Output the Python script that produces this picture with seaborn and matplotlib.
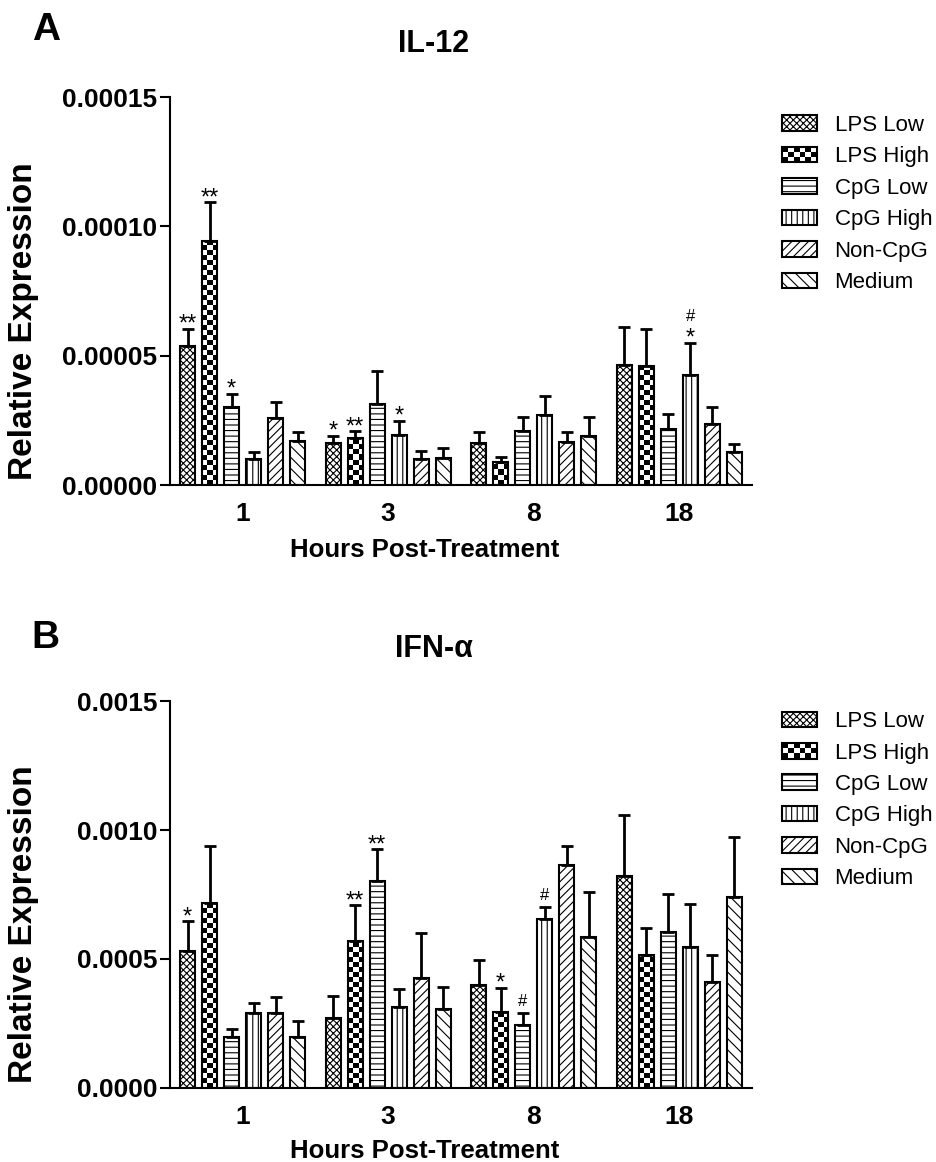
import numpy as np
import pandas as pd
import seaborn as sns
import matplotlib.pyplot as plt
from matplotlib.patches import Patch, Rectangle
from matplotlib.legend_handler import HandlerPatch

# categories
times = ['1', '3', '8', '18']
treatments = ['LPS Low', 'LPS High', 'CpG Low', 'CpG High', 'Non-CpG', 'Medium']
hatches = ['xxxxx', None, '---', '|||', '////', '\\\\\\']

# IL-12 (rows = treatments, cols = hours)
il12_mean = [[5.39e-5, 1.63e-5, 1.63e-5, 4.65e-5],
             [9.42e-5, 1.82e-5, 0.89e-5, 4.60e-5],
             [3.02e-5, 3.14e-5, 2.09e-5, 2.17e-5],
             [1.00e-5, 1.94e-5, 2.71e-5, 4.26e-5],
             [2.60e-5, 1.00e-5, 1.67e-5, 2.36e-5],
             [1.70e-5, 1.05e-5, 1.90e-5, 1.28e-5]]
il12_sem = [[0.66e-5, 0.27e-5, 0.42e-5, 1.47e-5],
            [1.51e-5, 0.27e-5, 0.19e-5, 1.45e-5],
            [0.51e-5, 1.28e-5, 0.55e-5, 0.58e-5],
            [0.28e-5, 0.54e-5, 0.74e-5, 1.24e-5],
            [0.60e-5, 0.30e-5, 0.38e-5, 0.66e-5],
            [0.35e-5, 0.38e-5, 0.74e-5, 0.31e-5]]
il12_sig = [['**', '*', '', ''],
            ['**', '**', '', ''],
            ['*', '', '', ''],
            ['', '*', '', '* #'],
            ['', '', '', ''],
            ['', '', '', '']]
il12_ticks = [0, 0.00005, 0.00010, 0.00015]
il12_ticklabels = ['0.00000', '0.00005', '0.00010', '0.00015']

# IFN-alpha
ifn_mean = [[5.31e-4, 2.71e-4, 3.99e-4, 8.22e-4],
            [7.17e-4, 5.70e-4, 2.95e-4, 5.16e-4],
            [1.98e-4, 8.02e-4, 2.44e-4, 6.05e-4],
            [2.90e-4, 3.14e-4, 6.55e-4, 5.47e-4],
            [2.90e-4, 4.26e-4, 8.64e-4, 4.11e-4],
            [1.98e-4, 3.06e-4, 5.85e-4, 7.40e-4]]
ifn_sem = [[1.16e-4, 0.86e-4, 0.97e-4, 2.36e-4],
           [2.21e-4, 1.39e-4, 0.93e-4, 1.04e-4],
           [0.31e-4, 1.24e-4, 0.46e-4, 1.47e-4],
           [0.40e-4, 0.70e-4, 0.47e-4, 1.66e-4],
           [0.63e-4, 1.74e-4, 0.74e-4, 1.05e-4],
           [0.62e-4, 0.84e-4, 1.75e-4, 2.33e-4]]
ifn_sig = [['*', '', '', ''],
           ['', '**', '*', ''],
           ['', '**', '#', ''],
           ['', '', '#', ''],
           ['', '', '', ''],
           ['', '', '', '']]
ifn_ticks = [0, 0.0005, 0.0010, 0.0015]
ifn_ticklabels = ['0.0000', '0.0005', '0.0010', '0.0015']

sns.set_style('ticks')
plt.rcParams['font.family'] = ['Liberation Sans', 'DejaVu Sans']
plt.rcParams['hatch.linewidth'] = 0.8
plt.rcParams['axes.linewidth'] = 1.5
for key in ['text.color', 'axes.labelcolor', 'xtick.color', 'ytick.color', 'axes.edgecolor']:
    plt.rcParams[key] = 'black'


def make_df(mean, sem, sig):
    rows = []
    for i, trt in enumerate(treatments):
        for j, hr in enumerate(times):
            rows.append({'hours': hr, 'treatment': trt, 'value': mean[i][j],
                         'sem': sem[i][j], 'sig': sig[i][j]})
    return pd.DataFrame(rows)


class CheckerHandler(HandlerPatch):
    # legend swatch drawn as a black/white checkerboard
    def create_artists(self, legend, orig_handle, xdescent, ydescent,
                       width, height, fontsize, trans):
        ncol, nrow = 6, 3
        cw, ch = width / ncol, height / nrow
        arts = []
        for r in range(nrow):
            for c in range(ncol):
                if (r + c) % 2 == 0:
                    arts.append(Rectangle((-xdescent + c * cw, -ydescent + r * ch), cw, ch,
                                          facecolor='black', edgecolor='none', transform=trans))
        arts.append(Rectangle((-xdescent, -ydescent), width, height, facecolor='none',
                              edgecolor='black', linewidth=1.5, transform=trans))
        return arts


def add_marks(ax, x, y, label):
    off = 0
    for tok in label.split():
        if tok.startswith('*'):
            ax.annotate(tok, (x, y), xytext=(0, off - 1.5), textcoords='offset points',
                        ha='center', va='baseline', fontsize=17)
            off += 11
        else:
            ax.annotate(tok, (x, y), xytext=(0, off + 5), textcoords='offset points',
                        ha='center', va='baseline', fontsize=12)
            off += 14


def draw_panel(ax, df, ticks, ticklabels):
    sns.barplot(data=df, x='hours', y='value', hue='treatment', order=times,
                hue_order=treatments, palette=['white'] * 6, saturation=1,
                edgecolor='black', linewidth=1.5, width=0.91, gap=0.32,
                errorbar=None, legend=False, ax=ax)
    ax.set_xlim(-0.5, 3.5)
    ax.set_ylim(0, ticks[-1])

    for i, trt in enumerate(treatments):
        bars = ax.containers[i]
        sub = df[df['treatment'] == trt].set_index('hours').loc[times]
        xs = [b.get_x() + b.get_width() / 2 for b in bars]
        if hatches[i]:
            for b in bars:
                b.set_hatch(hatches[i])
        else:
            # checkerboard fill for LPS High
            for b in bars:
                x0, w, h = b.get_x(), b.get_width(), b.get_height()
                px = ax.transData.transform([(x0, 0), (x0 + w, h)])
                cell = (px[1, 0] - px[0, 0]) / 3
                n = (px[1, 1] - px[0, 1]) / cell
                nrows = int(np.ceil(n))
                board = np.indices((nrows, 3)).sum(axis=0) % 2
                b.set_facecolor('none')
                img = ax.imshow(board, cmap='gray_r', vmin=0, vmax=1, origin='lower',
                                extent=(x0, x0 + w, 0, nrows * h / n),
                                interpolation='nearest', aspect='auto', zorder=0.5)
                img.set_clip_path(b)
        ax.errorbar(xs, sub['value'], yerr=[np.zeros(len(times)), sub['sem']], fmt='none',
                    ecolor='black', elinewidth=2, capsize=4, capthick=2, zorder=3)
        for x, y, s, lab in zip(xs, sub['value'], sub['sem'], sub['sig']):
            if lab:
                add_marks(ax, x, y + s, lab)

    ax.set_xlim(-0.5, 3.5)
    ax.set_ylim(0, ticks[-1])
    ax.set_yticks(ticks)
    ax.set_yticklabels(ticklabels)
    ax.set_xlabel('')
    ax.set_ylabel('')
    sns.despine(ax=ax)
    ax.tick_params(axis='x', length=0, pad=12, labelsize=19)
    ax.tick_params(axis='y', length=7, width=1.5, pad=2, labelsize=19)
    for lbl in ax.get_xticklabels() + ax.get_yticklabels():
        lbl.set_fontweight('bold')


def add_legend(ax, top):
    handles = []
    for h in hatches:
        handles.append(Patch(facecolor='white', edgecolor='black', hatch=h, linewidth=1.5))
    ax.legend(handles, treatments, loc='upper left', bbox_to_anchor=(0.835, top),
              bbox_transform=fig.transFigure, frameon=False, fontsize=16,
              handlelength=1.55, handleheight=0.7, handletextpad=0.8,
              labelspacing=0.47, borderpad=0, borderaxespad=0,
              handler_map={handles[1]: CheckerHandler()})


fig = plt.figure(figsize=(9.37, 11.62), dpi=100)
ax_a = fig.add_axes([0.1814, 0.5826, 0.6211, 0.3339])
ax_b = fig.add_axes([0.1814, 0.0637, 0.6211, 0.3330])

draw_panel(ax_a, make_df(il12_mean, il12_sem, il12_sig), il12_ticks, il12_ticklabels)
draw_panel(ax_b, make_df(ifn_mean, ifn_sem, ifn_sig), ifn_ticks, ifn_ticklabels)
add_legend(ax_a, 0.901)
add_legend(ax_b, 0.388)

fig.text(0.034, 0.9656, 'A', fontsize=28, fontweight='bold', va='baseline')
fig.text(0.034, 0.4423, 'B', fontsize=28, fontweight='bold', va='baseline')
fig.text(0.463, 0.9552, 'IL-12', fontsize=22, fontweight='bold', ha='center', va='baseline')
fig.text(0.463, 0.4346, 'IFN-α', fontsize=22, fontweight='bold', ha='center', va='baseline')
for yc in (0.7238, 0.2048):
    fig.text(0.0256, yc, 'Relative Expression', fontsize=24, fontweight='bold',
             rotation=90, ha='center', va='center')
for yb in (0.5207, 0.0034):
    fig.text(0.4536, yb, 'Hours Post-Treatment', fontsize=18.5, fontweight='bold',
             ha='center', va='baseline')

fig.savefig('out.png', dpi=100)
